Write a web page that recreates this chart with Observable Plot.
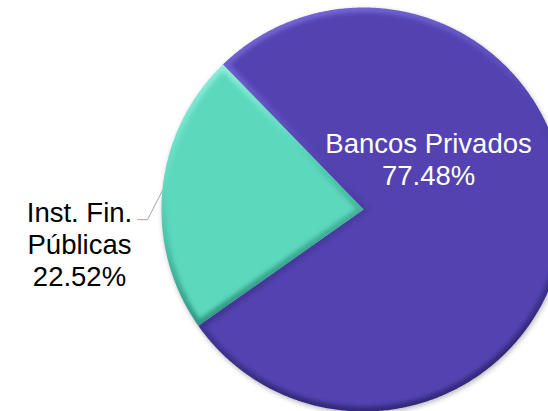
<!DOCTYPE html>
<html>
<head>
<meta charset="utf-8">
<script src="https://cdn.jsdelivr.net/npm/d3@7"></script>
<script src="https://cdn.jsdelivr.net/npm/@observablehq/plot@0.6"></script>
<style>
  html, body { margin: 0; padding: 0; background: #fff; }
  #chart { width: 548px; height: 411px; overflow: hidden; }
  #fx { position: absolute; width: 0; height: 0; overflow: hidden; }
</style>
</head>
<body>
<svg id="fx" xmlns="http://www.w3.org/2000/svg">
  <defs>
    <linearGradient id="g0" x1="0" y1="0" x2="0.25" y2="1">
      <stop offset="0" stop-color="#7C6EE0"/>
      <stop offset="0.45" stop-color="#5243B0"/>
      <stop offset="1" stop-color="#33297A"/>
    </linearGradient>
    <linearGradient id="g1" x1="0" y1="0" x2="0.25" y2="1">
      <stop offset="0" stop-color="#96F2DE"/>
      <stop offset="0.45" stop-color="#5CD8BD"/>
      <stop offset="1" stop-color="#2F9680"/>
    </linearGradient>
    <filter id="soft" x="-5%" y="-5%" width="110%" height="110%">
      <feGaussianBlur stdDeviation="2.2"/>
    </filter>
    <filter id="shadowBlur" x="-5%" y="-5%" width="110%" height="110%">
      <feGaussianBlur stdDeviation="2.5"/>
    </filter>
  </defs>
</svg>
<div id="chart"></div>
<script>
// ---- data ----
const categories = ["Bancos Privados", "Inst. Fin. Públicas"];
const shares = [77.48, 22.52];
const shareLabels = ["77.48%", "22.52%"];
const displayNames = ["Bancos Privados", "Inst. Fin.\nPúblicas"];

// ---- layout / style ----
const W = 548, H = 411;
const CX = 363, CY = 209, R = 202;          // pie centre & radius in px
const START_DEG = -44.1;                     // first slice start (clockwise from north)
const colors = ["#5243B0", "#5CD8BD"];
const rimFills = ["url(#g0)", "url(#g1)"];
const SHADOW = "#000000";
const INSET = 5 / R;                         // bevel width (radius units)
const FONT = "'Liberation Sans', Arial, Helvetica, sans-serif";

const pie = d3.pie().sort(null).value(d => d)
  .startAngle(START_DEG * Math.PI / 180)
  .endAngle(START_DEG * Math.PI / 180 + 2 * Math.PI)(shares);

const STEP = Math.PI / 360;
function arcPts(r, t0, t1, out) {
  const n = Math.max(2, Math.ceil(Math.abs(t1 - t0) / STEP));
  for (let i = 0; i <= n; i++) {
    const t = t0 + (t1 - t0) * i / n;
    out.push({x: r * Math.sin(t), y: r * Math.cos(t)});
  }
  return out;
}
function slicePoints(a) {
  return arcPts(1, a.startAngle, a.endAngle, [{x: 0, y: 0}]);
}
function insetPoints(a, d) {
  const half = (a.endAngle - a.startAngle) / 2, m = a.startAngle + half;
  const pd = d / Math.sin(half);
  const rr = 1 - d, delta = Math.atan2(d, Math.sqrt(rr * rr - d * d));
  return arcPts(rr, a.startAngle + delta, a.endAngle - delta,
    [{x: pd * Math.sin(m), y: pd * Math.cos(m)}]);
}
const fullDisc = arcPts(1, 0, 2 * Math.PI, []);

const mid = a => (a.startAngle + a.endAngle) / 2;

// label anchors (layout, in pie-radius units)
const bancosLabel = {x: 0.322, y: 0.25};
const instLabel = {x: -1.406, y: -0.17};
const leaderElbow = {x: -1.069, y: -0.05};
const leaderEnd = {x: -1.118, y: -0.05};

const gA = pie[1];
const leader = [
  {x: Math.sin(mid(gA)), y: Math.cos(mid(gA))},
  leaderElbow,
  leaderEnd
];

const textData = [
  {x: bancosLabel.x, y: bancosLabel.y, t: displayNames[0] + "\n" + shareLabels[0], c: "#ffffff"},
  {x: instLabel.x, y: instLabel.y, t: displayNames[1] + "\n" + shareLabels[1], c: "#000000"}
];

const plot = Plot.plot({
  width: W, height: H,
  marginTop: 0, marginRight: 0, marginBottom: 0, marginLeft: 0,
  x: {domain: [(0 - CX) / R, (W - CX) / R], range: [0, W], axis: null},
  y: {domain: [(CY - H) / R, CY / R], range: [H, 0], axis: null},
  style: {background: "#ffffff", overflow: "hidden"},
  marks: [
    // soft shadow under the pie
    Plot.line(fullDisc, {x: "x", y: "y", fill: SHADOW, fillOpacity: 0.28, stroke: "none",
      curve: "linear-closed", dx: 1, dy: 2}),
    // slice rims (bevel gradient)
    ...pie.map((a, i) => Plot.line(slicePoints(a), {
      x: "x", y: "y", fill: rimFills[i], stroke: "none", curve: "linear-closed"
    })),
    // slice faces
    ...pie.map((a, i) => Plot.line(insetPoints(a, INSET), {
      x: "x", y: "y", fill: colors[i], stroke: "none", curve: "linear-closed"
    })),
    Plot.line(leader, {x: "x", y: "y", stroke: "#a6a6a6", strokeWidth: 1}),
    Plot.text(textData, {
      x: "x", y: "y", text: "t", fill: "c",
      fontSize: 27.5, fontFamily: FONT, lineHeight: 1.16,
      textAnchor: "middle", lineAnchor: "middle"
    })
  ]
});

const fillIs = (el, c) => (el.getAttribute("fill") || "").toLowerCase() === c.toLowerCase();
plot.querySelectorAll("g, path").forEach(el => {
  if (colors.some(c => fillIs(el, c))) el.setAttribute("filter", "url(#soft)");
  else if (fillIs(el, SHADOW) && el.getAttribute("fill-opacity")) el.setAttribute("filter", "url(#shadowBlur)");
});

document.getElementById("chart").appendChild(plot);
</script>
</body>
</html>
